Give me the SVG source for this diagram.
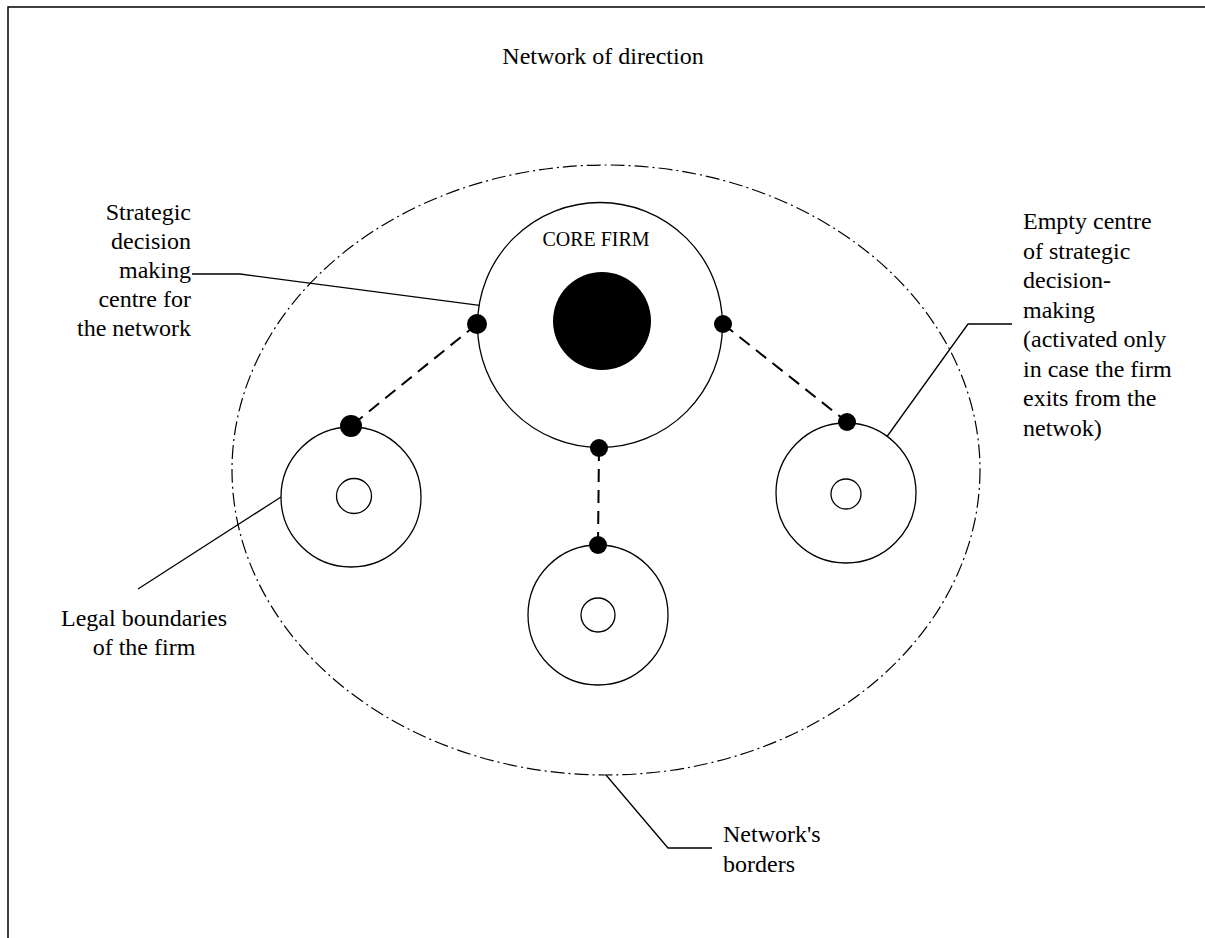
<svg xmlns="http://www.w3.org/2000/svg" width="1205" height="938" viewBox="0 0 1205 938">
<style>
text{font-family:'Liberation Serif','DejaVu Serif',serif;font-size:24px;fill:#000}
.ring{fill:#fff;stroke:#000;stroke-width:1.3}
.dot{fill:#000}
.lead{fill:none;stroke:#000;stroke-width:1.3}
.dash{fill:none;stroke:#000;stroke-width:2;stroke-dasharray:13 8}
</style>
<rect width="1205" height="938" fill="#fff"/>
<path d="M8 938 V7 H1205" fill="none" stroke="#000" stroke-width="1.5"/>
<text x="603" y="64" text-anchor="middle" font-family="Liberation Serif, DejaVu Serif, serif">Network of direction</text>
<g id="network-border">
<ellipse cx="606" cy="470" rx="374" ry="305" fill="none" stroke="#000" stroke-width="1.2" stroke-dasharray="14 4 2 4"/>
</g>
<g id="connectors">
<line class="dash" x1="477" y1="324" x2="351" y2="426"/>
<line class="dash" x1="723" y1="324" x2="847" y2="422"/>
<line class="dash" x1="599" y1="448" x2="598" y2="545"/>
<polyline class="lead" points="192,274 240,274 553,315"/>
<polyline class="lead" points="1012,324 968,324 855,481"/>
<line class="lead" x1="138" y1="589" x2="281" y2="497"/>
<polyline class="lead" points="606,775 668,848 712,848"/>
</g>
<g id="core-firm">
<circle class="ring" cx="600" cy="325" r="122.5"/>
<circle class="dot" cx="602" cy="321" r="49"/>
<text x="596" y="246" text-anchor="middle" font-family="Liberation Serif, DejaVu Serif, serif" style="font-size:20px">CORE FIRM</text>
<circle class="dot" cx="477" cy="324" r="10"/>
<circle class="dot" cx="723" cy="324" r="9"/>
<circle class="dot" cx="599" cy="448" r="9"/>
</g>
<g id="firm-left">
<circle class="ring" cx="351" cy="497" r="70"/>
<circle class="ring" cx="354" cy="496" r="17.5"/>
<circle class="dot" cx="351" cy="426" r="11"/>
</g>
<g id="firm-right">
<circle class="ring" cx="846" cy="493" r="70"/>
<circle class="ring" cx="846" cy="494" r="15"/>
<circle class="dot" cx="847" cy="422" r="9"/>
</g>
<g id="firm-bottom">
<circle class="ring" cx="598" cy="615" r="70"/>
<circle class="ring" cx="598" cy="615" r="17"/>
<circle class="dot" cx="598" cy="545" r="9"/>
</g>
<g id="label-strategic" font-family="Liberation Serif, DejaVu Serif, serif">
<text x="191" y="220" text-anchor="end">Strategic</text>
<text x="191" y="249" text-anchor="end">decision</text>
<text x="191" y="278" text-anchor="end">making</text>
<text x="191" y="307" text-anchor="end">centre for</text>
<text x="191" y="336" text-anchor="end">the network</text>
</g>
<g id="label-empty" font-family="Liberation Serif, DejaVu Serif, serif">
<text x="1023" y="229">Empty centre</text>
<text x="1023" y="258.5">of strategic</text>
<text x="1023" y="288">decision-</text>
<text x="1023" y="317.5">making</text>
<text x="1023" y="347">(activated only</text>
<text x="1023" y="376.5">in case the firm</text>
<text x="1023" y="406">exits from the</text>
<text x="1023" y="435.5">netwok)</text>
</g>
<g id="label-legal" font-family="Liberation Serif, DejaVu Serif, serif">
<text x="144" y="626" text-anchor="middle">Legal boundaries</text>
<text x="144" y="655" text-anchor="middle">of the firm</text>
</g>
<g id="label-borders" font-family="Liberation Serif, DejaVu Serif, serif">
<text x="723" y="842">Network's</text>
<text x="723" y="872">borders</text>
</g>
</svg>
